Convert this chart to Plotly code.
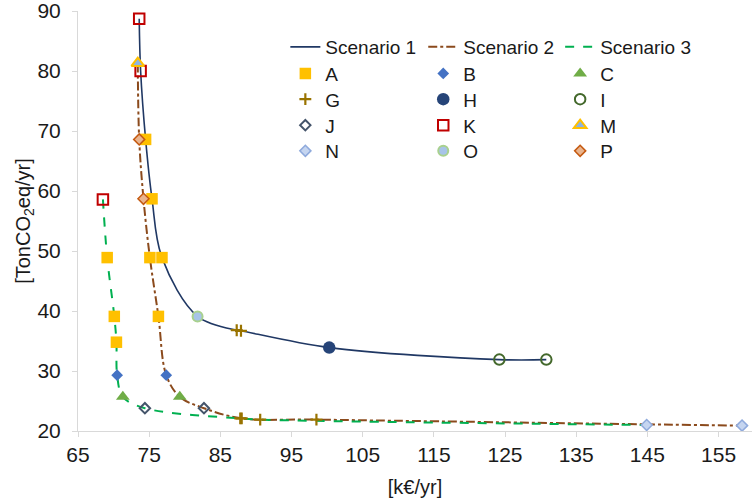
import plotly.graph_objects as go

# Scenario curves: x [k€/yr], y [TonCO2eq/yr], and the marker label at each point
s1_x = [73.6, 73.8, 74.5, 75.4, 76.8, 81.8, 87.3, 87.9, 100.3, 124.2, 130.8]
s1_y = [88.7, 80.0, 68.6, 58.7, 48.9, 39.1, 36.8, 36.7, 33.9, 31.9, 31.9]
s1_pts = ['K', 'K', 'A', 'A', 'A', 'O', 'G', 'G', 'H', 'I', 'I']

s2_x = [73.4, 73.6, 74.2, 75.1, 76.3, 77.4, 79.3, 82.7, 88.0, 98.5, 158.3]
s2_y = [81.3, 68.6, 58.7, 48.9, 39.1, 29.3, 25.7, 23.8, 22.1, 21.9, 20.9]
s2_pts = ['M', 'P', 'P', 'A', 'A', 'B', 'C', 'J', 'G', 'G', 'N']

s3_x = [68.5, 69.1, 70.1, 70.4, 70.5, 71.3, 74.4, 87.8, 90.6, 144.9]
s3_y = [58.6, 48.9, 39.1, 34.8, 29.3, 25.7, 23.8, 22.1, 21.9, 21.0]
s3_pts = ['K', 'A', 'A', 'A', 'B', 'C', 'J', 'G', 'G', 'N']

scenario_names = ['Scenario 1', 'Scenario 2', 'Scenario 3']
marker_labels = ['A', 'B', 'C', 'G', 'H', 'I', 'J', 'K', 'M', 'N', 'O', 'P']

x_ticks = [65, 75, 85, 95, 105, 115, 125, 135, 145, 155]
y_ticks = [20, 30, 40, 50, 60, 70, 80, 90]

FONT = 'Liberation Sans, Arial, sans-serif'
TXT = '#1a1a1a'

W, H = 752, 502
ML, MT, MB, MR = 77.5, 10.7, 71.3, 0
PW = W - ML - MR
PH = H - MT - MB

line_styles = [
    dict(color='#203864', width=1.6, dash='solid'),
    dict(color='#8B4A1C', width=2, dash='dashdot'),
    dict(color='#00B050', width=2, dash='dash'),
]

marker_styles = {
    'A': dict(symbol='square', size=11.5, color='#FFC000', line=dict(width=0)),
    'B': dict(symbol='diamond', size=9, color='#4472C4', line=dict(width=0)),
    'C': dict(symbol='triangle-up', size=12, color='#70AD47', line=dict(width=0)),
    'G': dict(symbol='cross-thin', size=8.5, color='#997300', line=dict(width=2.2, color='#997300')),
    'H': dict(symbol='circle', size=12.5, color='#264478', line=dict(width=0)),
    'I': dict(symbol='circle-open', size=10.5, color='#43682B', line=dict(width=2)),
    'J': dict(symbol='diamond-open', size=8, color='#44546A', line=dict(width=2)),
    'K': dict(symbol='square-open', size=10.5, color='#C00000', line=dict(width=2)),
    'M': dict(symbol='triangle-up', size=11, color='#8DB4E2', line=dict(width=2, color='#FFC000')),
    'N': dict(symbol='diamond', size=8.5, color='#C5D5F0', line=dict(width=1.5, color='#8FAADC')),
    'O': dict(symbol='circle', size=10, color='#A7C4E8', line=dict(width=2, color='#A9D18E')),
    'P': dict(symbol='diamond', size=8.5, color='#E9B48E', line=dict(width=1.5, color='#C55A11')),
}

# legend grid: 3 columns x 5 rows (pixel positions in the window)
legend_order = scenario_names + marker_labels
col_px = [285, 423, 560]
row_px = [46.7, 73.3, 99.0, 125.0, 150.7]


def px_to_paper_x(px):
    return (px - ML) / PW


def px_to_paper_y(py):
    return (H - MB - py) / PH


fig = go.Figure()

scen = [(s1_x, s1_y, s1_pts), (s2_x, s2_y, s2_pts), (s3_x, s3_y, s3_pts)]
legend_ids = {}
for i, name in enumerate(legend_order):
    legend_ids[name] = 'legend' if i == 0 else 'legend%d' % (i + 1)

for name, (xs, ys, _), ls in zip(scenario_names, scen, line_styles):
    fig.add_trace(go.Scatter(x=xs, y=ys, mode='lines', name=name, legend=legend_ids[name],
                             line=dict(shape='spline', smoothing=1, **ls)))

for lab in marker_labels:
    mx, my = [], []
    for xs, ys, pts in scen:
        for xv, yv, p in zip(xs, ys, pts):
            if p == lab:
                mx.append(xv)
                my.append(yv)
    fig.add_trace(go.Scatter(x=mx, y=my, mode='markers', name=lab, legend=legend_ids[lab],
                             marker=marker_styles[lab]))

legend_layouts = {}
for i, name in enumerate(legend_order):
    r, c = divmod(i, 3)
    legend_layouts[legend_ids[name]] = dict(
        x=px_to_paper_x(col_px[c]), y=px_to_paper_y(row_px[r]),
        xanchor='left', yanchor='middle', orientation='v',
        font=dict(family=FONT, size=19, color=TXT),
        bgcolor='rgba(0,0,0,0)', borderwidth=0, itemwidth=30,
    )

axis_common = dict(showgrid=False, zeroline=False, showline=True, linecolor='#D9D9D9',
                   linewidth=1, ticks='outside', tickcolor='#D9D9D9', ticklen=5,
                   automargin=False, ticklabeloverflow='allow',
                   tickfont=dict(family=FONT, size=21, color=TXT))

fig.update_layout(
    width=W, height=H,
    margin=dict(l=ML, r=MR, t=MT, b=MB, pad=0),
    paper_bgcolor='white', plot_bgcolor='white',
    font=dict(family=FONT, color=TXT),
    xaxis=dict(range=[65, 159.7], tickvals=x_ticks,
               title=dict(text='[k€/yr]', font=dict(family=FONT, size=20, color=TXT), standoff=14),
               **axis_common),
    yaxis=dict(range=[20, 90], tickvals=y_ticks, ticklabelstandoff=7,
               title=dict(text='[TonCO<sub>2</sub>eq/yr]', font=dict(family=FONT, size=20, color=TXT), standoff=0),
               **axis_common),
    showlegend=True,
    **legend_layouts,
)

# remove the browser's default 8px body margin so the figure fills the window exactly
fig.write_html('out.html', config={'displayModeBar': False},
               post_script="document.body.style.margin='0';document.body.style.overflow='hidden';")
